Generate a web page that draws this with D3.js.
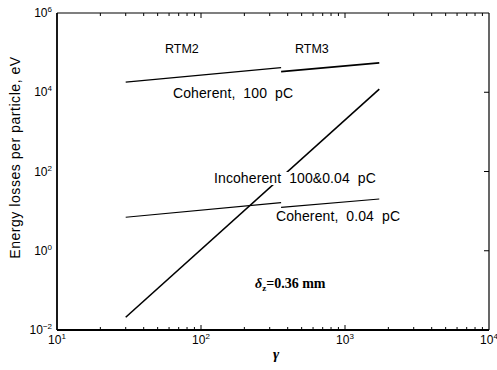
<!DOCTYPE html>
<html>
<head>
<meta charset="utf-8">
<script src="https://cdn.jsdelivr.net/npm/d3@7"></script>
<style>
  body { margin: 0; background: #fff; }
  text { font-family: "Liberation Sans", Arial, sans-serif; fill: #000; }
</style>
</head>
<body>
<svg id="chart" width="497" height="370"></svg>
<script>
// gamma ranges of the two machines
const gammaRTM2 = [30, 360];
const gammaRTM3 = [360, 1730];
const gammaIncoh = [30, 1730];

// energy losses, eV
const coh100RTM2 = [1.8e4, 4.2e4];
const coh100RTM3 = [3.3e4, 5.5e4];
const coh004RTM2 = [7.0, 16.3];
const coh004RTM3 = [12.5, 20.2];
const incoh = [0.021, 1.2e4];

const xTickExp = [1, 2, 3, 4];
const yTickExp = [-2, 0, 2, 4, 6];

const W = 497, H = 370;
const m = {l: 57, r: 8, t: 13, b: 40};

const svg = d3.select('#chart');

const x = d3.scaleLog().domain([10, 1e4]).range([m.l, W - m.r]);
const y = d3.scaleLog().domain([1e-2, 1e6]).range([H - m.b, m.t]);

const x0 = x.range()[0], x1 = x.range()[1];
const y0 = y.range()[0], y1 = y.range()[1];

// minor ticks on the gamma axis (2..9 of every decade)
const minor = [];
for (let e = 1; e < 4; e++) {
  for (let k = 2; k <= 9; k++) minor.push(k * Math.pow(10, e));
}

const g = svg.append('g');

// bottom ticks pointing up, top ticks pointing down
minor.forEach(v => {
  g.append('line').attr('x1', x(v)).attr('x2', x(v)).attr('y1', y0).attr('y2', y0 - 3)
    .attr('stroke', '#000').attr('stroke-width', 1);
  g.append('line').attr('x1', x(v)).attr('x2', x(v)).attr('y1', y1).attr('y2', y1 + 3)
    .attr('stroke', '#000').attr('stroke-width', 1);
});
[100, 1000].forEach(v => {
  g.append('line').attr('x1', x(v)).attr('x2', x(v)).attr('y1', y0).attr('y2', y0 - 5)
    .attr('stroke', '#000').attr('stroke-width', 1);
  g.append('line').attr('x1', x(v)).attr('x2', x(v)).attr('y1', y1).attr('y2', y1 + 5)
    .attr('stroke', '#000').attr('stroke-width', 1);
});
// right side major ticks
[1, 100, 1e4].forEach(v => {
  g.append('line').attr('x1', x1).attr('x2', x1 - 5).attr('y1', y(v)).attr('y2', y(v))
    .attr('stroke', '#000').attr('stroke-width', 1);
});

// frame
g.append('line').attr('x1', x0).attr('x2', x1).attr('y1', y1).attr('y2', y1)
  .attr('stroke', '#000').attr('stroke-width', 1.2);
g.append('line').attr('x1', x1).attr('x2', x1).attr('y1', y1).attr('y2', y0)
  .attr('stroke', '#000').attr('stroke-width', 1.2);
g.append('line').attr('x1', x0).attr('x2', x1).attr('y1', y0).attr('y2', y0)
  .attr('stroke', '#000').attr('stroke-width', 1.8);
g.append('line').attr('x1', x0).attr('x2', x0).attr('y1', y1).attr('y2', y0)
  .attr('stroke', '#000').attr('stroke-width', 1.8);

// tick labels 10^n
function powLabel(sel, e) {
  sel.append('tspan').text('10');
  sel.append('tspan').attr('dy', -5).attr('font-size', 8).text(e < 0 ? '\u2212' + Math.abs(e) : e);
}
xTickExp.forEach(e => {
  const t = g.append('text').attr('x', x(Math.pow(10, e))).attr('y', y0 + 14)
    .attr('text-anchor', 'middle').attr('font-size', 12);
  powLabel(t, e);
});
yTickExp.forEach(e => {
  const t = g.append('text').attr('x', x0 - 5).attr('y', y(Math.pow(10, e)) + 4)
    .attr('text-anchor', 'end').attr('font-size', 12);
  powLabel(t, e);
});

// axis titles
svg.append('text')
  .attr('transform', `translate(20,${(y0 + y1) / 2 - 14}) rotate(-90)`)
  .attr('text-anchor', 'middle').attr('font-size', 14)
  .attr('letter-spacing', 0.55)
  .text('Energy losses per particle, eV');

svg.append('text').attr('x', 276).attr('y', 359).attr('text-anchor', 'middle')
  .style('font-family', '"Liberation Serif", "DejaVu Serif", serif')
  .attr('font-weight', 'bold').attr('font-style', 'italic').attr('font-size', 15)
  .text('\u03b3');

// curves
const line = d3.line().x(d => x(d[0])).y(d => y(d[1]));
const curves = [
  {gx: gammaRTM2, v: coh100RTM2, w: 1.2},
  {gx: gammaRTM3, v: coh100RTM3, w: 1.7},
  {gx: gammaRTM2, v: coh004RTM2, w: 1.2},
  {gx: gammaRTM3, v: coh004RTM3, w: 1.2},
  {gx: gammaIncoh, v: incoh, w: 1.6}
];
curves.forEach(c => {
  svg.append('path')
    .attr('d', line(c.gx.map((gm, i) => [gm, c.v[i]])))
    .attr('fill', 'none').attr('stroke', '#000').attr('stroke-width', c.w);
});

// labels
function label(tx, ty, s, size, bg) {
  const t = svg.append('text').attr('x', tx).attr('y', ty).attr('font-size', size)
    .style('white-space', 'pre').text(s);
  if (bg) {
    const b = t.node().getBBox();
    svg.insert('rect', () => t.node())
      .attr('x', b.x).attr('y', b.y + 2).attr('width', b.width).attr('height', b.height - 3)
      .attr('fill', '#fff');
  }
  return t;
}
label(165, 53, 'RTM2', 12.5);
label(295, 53, 'RTM3', 12.5);
label(173, 98, 'Coherent,  100  pC', 14).attr('letter-spacing', 0.1);
label(214, 183, 'Incoherent  100&0.04  pC', 14, true).attr('letter-spacing', 0.1);
label(276, 221, 'Coherent,  0.04  pC', 14).attr('letter-spacing', 0.1);

const dz = svg.append('text').attr('x', 255).attr('y', 288)
  .style('font-family', '"Liberation Serif", "DejaVu Serif", serif')
  .attr('font-weight', 'bold').attr('font-size', 14);
dz.append('tspan').attr('font-style', 'italic').text('\u03b4');
dz.append('tspan').attr('font-size', 9).attr('dy', 3).text('z');
dz.append('tspan').attr('dy', -3).text('=0.36 mm').style('white-space', 'pre');
</script>
</body>
</html>
